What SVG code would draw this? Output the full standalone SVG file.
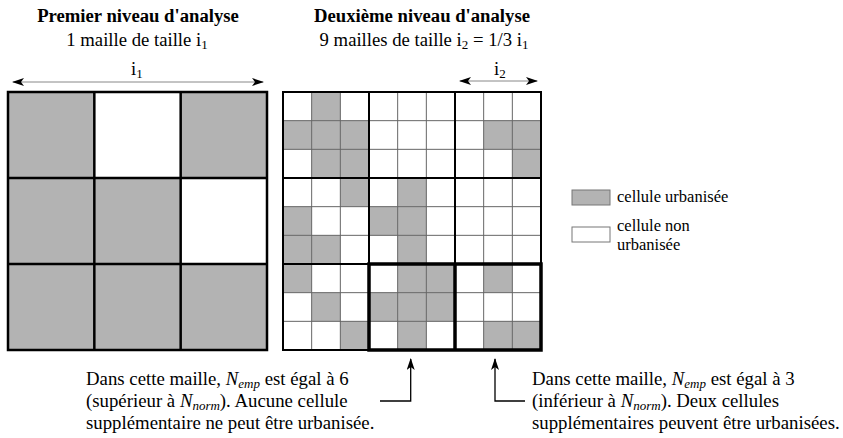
<svg xmlns="http://www.w3.org/2000/svg" width="843" height="438" viewBox="0 0 843 438" font-family="'Liberation Serif', 'Times New Roman', Tinos, 'DejaVu Serif', serif">
<style>
text{font-family:'Liberation Serif','Times New Roman',Tinos,'DejaVu Serif',serif;fill:#000}
.t{font-size:18.8px}
.h{font-size:18.7px}
.b{font-weight:bold}
.lg{font-size:16.5px}
.s{font-size:13px}
.g{fill:#b3b3b3}
.w{fill:#fff}
.minor{stroke:#666;stroke-width:1;fill:none}
.major{stroke:#000;stroke-width:2;fill:none}
.bold{stroke:#000;stroke-width:3.5;fill:none}
.dim{stroke:#888;stroke-width:1;fill:none}
.con{stroke:#000;stroke-width:1.3;fill:none}
</style>
<defs>
<marker id="ah" viewBox="0 0 12 8" refX="11" refY="4" markerWidth="12" markerHeight="8" markerUnits="userSpaceOnUse" orient="auto-start-reverse">
<path d="M0,0 L12,4 L0,8 L3,4 z" fill="#000"/>
</marker>
</defs>
<rect width="843" height="438" fill="#fff"/>

<g id="title-left">
<text class="h b" x="138" y="22" text-anchor="middle">Premier niveau d'analyse</text>
<text class="h" x="137" y="46" text-anchor="middle">1 maille de taille i<tspan dy="3" class="s">1</tspan></text>
</g>
<g id="title-right">
<text class="h b" x="422" y="22" text-anchor="middle">Deuxième niveau d'analyse</text>
<text class="h" x="424" y="46" text-anchor="middle">9 mailles de taille i<tspan dy="3" class="s">2</tspan><tspan dy="-3"> = 1/3 i</tspan><tspan dy="3" class="s">1</tspan></text>
</g>

<g id="label-i1">
<text class="h" x="131" y="75">i<tspan dy="3" class="s">1</tspan></text>
</g>
<g id="label-i2">
<text class="h" x="494" y="75">i<tspan dy="3" class="s">2</tspan></text>
</g>

<g id="grid-level1">
<rect x="8" y="92" width="259" height="258" class="g"/>
<rect x="94.33" y="92" width="86.33" height="86" class="w"/>
<rect x="180.67" y="178" width="86.33" height="86" class="w"/>
<path d="M94.33,92V350M180.67,92V350M8,178H267M8,264H267" stroke="#000" stroke-width="2.5" fill="none"/>
<rect x="8" y="92" width="259" height="258" stroke="#000" stroke-width="2.5" fill="none"/>
</g>

<g id="grid-level2">
<rect x="283" y="92" width="258" height="258" class="w"/>
<g class="g">
<rect x="311.67" y="92" width="28.67" height="28.67"/>
<rect x="283" y="120.67" width="28.67" height="28.67"/>
<rect x="311.67" y="120.67" width="28.67" height="28.67"/>
<rect x="340.33" y="120.67" width="28.67" height="28.67"/>
<rect x="483.67" y="120.67" width="28.67" height="28.67"/>
<rect x="512.33" y="120.67" width="28.67" height="28.67"/>
<rect x="311.67" y="149.33" width="28.67" height="28.67"/>
<rect x="340.33" y="149.33" width="28.67" height="28.67"/>
<rect x="512.33" y="149.33" width="28.67" height="28.67"/>
<rect x="340.33" y="178" width="28.67" height="28.67"/>
<rect x="397.67" y="178" width="28.67" height="28.67"/>
<rect x="283" y="206.67" width="28.67" height="28.67"/>
<rect x="369" y="206.67" width="28.67" height="28.67"/>
<rect x="397.67" y="206.67" width="28.67" height="28.67"/>
<rect x="283" y="235.33" width="28.67" height="28.67"/>
<rect x="311.67" y="235.33" width="28.67" height="28.67"/>
<rect x="397.67" y="235.33" width="28.67" height="28.67"/>
<rect x="283" y="264" width="28.67" height="28.67"/>
<rect x="397.67" y="264" width="28.67" height="28.67"/>
<rect x="426.33" y="264" width="28.67" height="28.67"/>
<rect x="483.67" y="264" width="28.67" height="28.67"/>
<rect x="311.67" y="292.67" width="28.67" height="28.67"/>
<rect x="369" y="292.67" width="28.67" height="28.67"/>
<rect x="397.67" y="292.67" width="28.67" height="28.67"/>
<rect x="426.33" y="292.67" width="28.67" height="28.67"/>
<rect x="340.33" y="321.33" width="28.67" height="28.67"/>
<rect x="397.67" y="321.33" width="28.67" height="28.67"/>
<rect x="483.67" y="321.33" width="28.67" height="28.67"/>
<rect x="512.33" y="321.33" width="28.67" height="28.67"/>
</g>
<path class="minor" d="M311.67,92V350M340.33,92V350M397.67,92V350M426.33,92V350M483.67,92V350M512.33,92V350M283,120.67H541M283,149.33H541M283,206.67H541M283,235.33H541M283,292.67H541M283,321.33H541"/>
<path class="major" d="M369,92V350M455,92V350M283,178H541M283,264H541"/>
<rect x="283" y="92" width="258" height="258" class="major"/>
<rect x="369" y="264" width="172" height="86" class="bold"/>
<path class="bold" d="M455,264V350"/>
</g>

<g id="legend-urbanisee">
<rect x="572" y="190" width="38" height="15" class="g" stroke="#777" stroke-width="1"/>
<text class="lg" x="617" y="202">cellule urbanisée</text>
</g>
<g id="legend-non-urbanisee">
<rect x="572" y="227" width="38" height="15" class="w" stroke="#777" stroke-width="1"/>
<text class="lg" x="617" y="231">cellule non</text>
<text class="lg" x="617" y="250">urbanisée</text>
</g>

<g id="note-left">
<text class="t" x="86" y="385">Dans cette maille, <tspan font-style="italic">N</tspan><tspan font-style="italic" dy="3" class="s">emp</tspan><tspan dy="-3"> est égal à 6</tspan></text>
<text class="t" x="86" y="407">(supérieur à <tspan font-style="italic">N</tspan><tspan font-style="italic" dy="3" class="s">norm</tspan><tspan dy="-3">). Aucune cellule</tspan></text>
<text class="t" x="86" y="429">supplémentaire ne peut être urbanisée.</text>
</g>
<g id="note-right">
<text class="t" x="532" y="385">Dans cette maille, <tspan font-style="italic">N</tspan><tspan font-style="italic" dy="3" class="s">emp</tspan><tspan dy="-3"> est égal à 3</tspan></text>
<text class="t" x="532" y="407">(inférieur à <tspan font-style="italic">N</tspan><tspan font-style="italic" dy="3" class="s">norm</tspan><tspan dy="-3">). Deux cellules</tspan></text>
<text class="t" x="532" y="429">supplémentaires peuvent être urbanisées.</text>
</g>

<g id="connectors">
<path class="dim" d="M13,82H263" marker-start="url(#ah)" marker-end="url(#ah)"/>
<path class="dim" d="M460,81H537" marker-start="url(#ah)" marker-end="url(#ah)"/>
<path class="con" d="M380,401H410.7V359" marker-end="url(#ah)"/>
<path class="con" d="M525,401H495V359" marker-end="url(#ah)"/>
</g>
</svg>
